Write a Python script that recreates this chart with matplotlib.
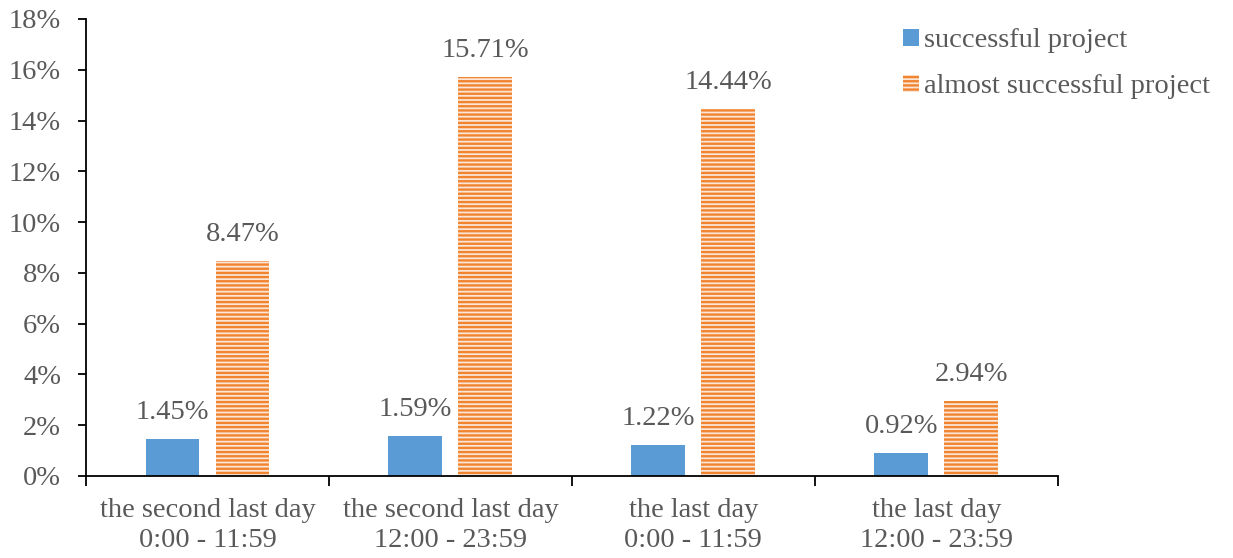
import numpy as np
import matplotlib.pyplot as plt
from matplotlib.patches import Patch
from matplotlib.ticker import FuncFormatter

categories = ["the second last day\n0:00 - 11:59", "the second last day\n12:00 - 23:59",
              "the last day\n0:00 - 11:59", "the last day\n12:00 - 23:59"]
successful = [1.45, 1.59, 1.22, 0.92]
almost = [8.47, 15.71, 14.44, 2.94]

plt.rcParams['font.family'] = ['Liberation Serif', 'DejaVu Serif']
plt.rcParams['hatch.linewidth'] = 1.7
text_col = '#595959'
blue = '#5B9BD5'
orange = '#F0842F'
light = '#FBE5D6'
fs = 20.5

fig = plt.figure(figsize=(12.33, 5.58), dpi=100)
ax = fig.add_axes([0.0698, 0.147, 0.788, 0.819])

x = np.arange(len(categories))
w = 0.222
off = 0.144
b1 = ax.bar(x - off, successful, w, color=blue, linewidth=0)
b2 = ax.bar(x + off, almost, w, facecolor=light, edgecolor=orange, hatch='----', linewidth=0)

for bars, vals in ((b1, successful), (b2, almost)):
    for r, v in zip(bars, vals):
        ax.annotate("%.2f%%" % v, (r.get_x() + r.get_width() / 2, v), xytext=(0, 10),
                    textcoords='offset points', ha='center', va='bottom',
                    fontsize=fs, color=text_col)

ax.set_xlim(-0.5, 3.5)
ax.set_ylim(0, 18)
ax.set_yticks(np.arange(0, 19, 2))
ax.yaxis.set_major_formatter(FuncFormatter(lambda v, p: "%d%%" % v))
ax.set_xticks(np.arange(-0.5, 4, 1))
ax.set_xticklabels([])
ax.set_xticks(x, minor=True)
ax.set_xticklabels(categories, minor=True, fontsize=fs, color=text_col, linespacing=1.25)
ax.tick_params(axis='x', which='minor', length=0, pad=16)
ax.tick_params(axis='x', which='major', length=7, width=1.3, direction='out')
ax.tick_params(axis='y', length=6, width=1.3, labelsize=fs, labelcolor=text_col, pad=12)
for s in ('top', 'right'):
    ax.spines[s].set_visible(False)
for s in ('left', 'bottom'):
    ax.spines[s].set_linewidth(1.3)

handles = [Patch(facecolor=blue, linewidth=0, label='successful project'),
           Patch(facecolor=light, edgecolor=orange, hatch='----', linewidth=0, label='almost successful project')]
fig.legend(handles=handles, loc='upper left', bbox_to_anchor=(0.7115, 0.995), frameon=False,
           fontsize=fs, labelcolor=text_col, handlelength=0.55, handleheight=0.55,
           handletextpad=0.2, labelspacing=0.73)

fig.savefig('out.png', dpi=100)
